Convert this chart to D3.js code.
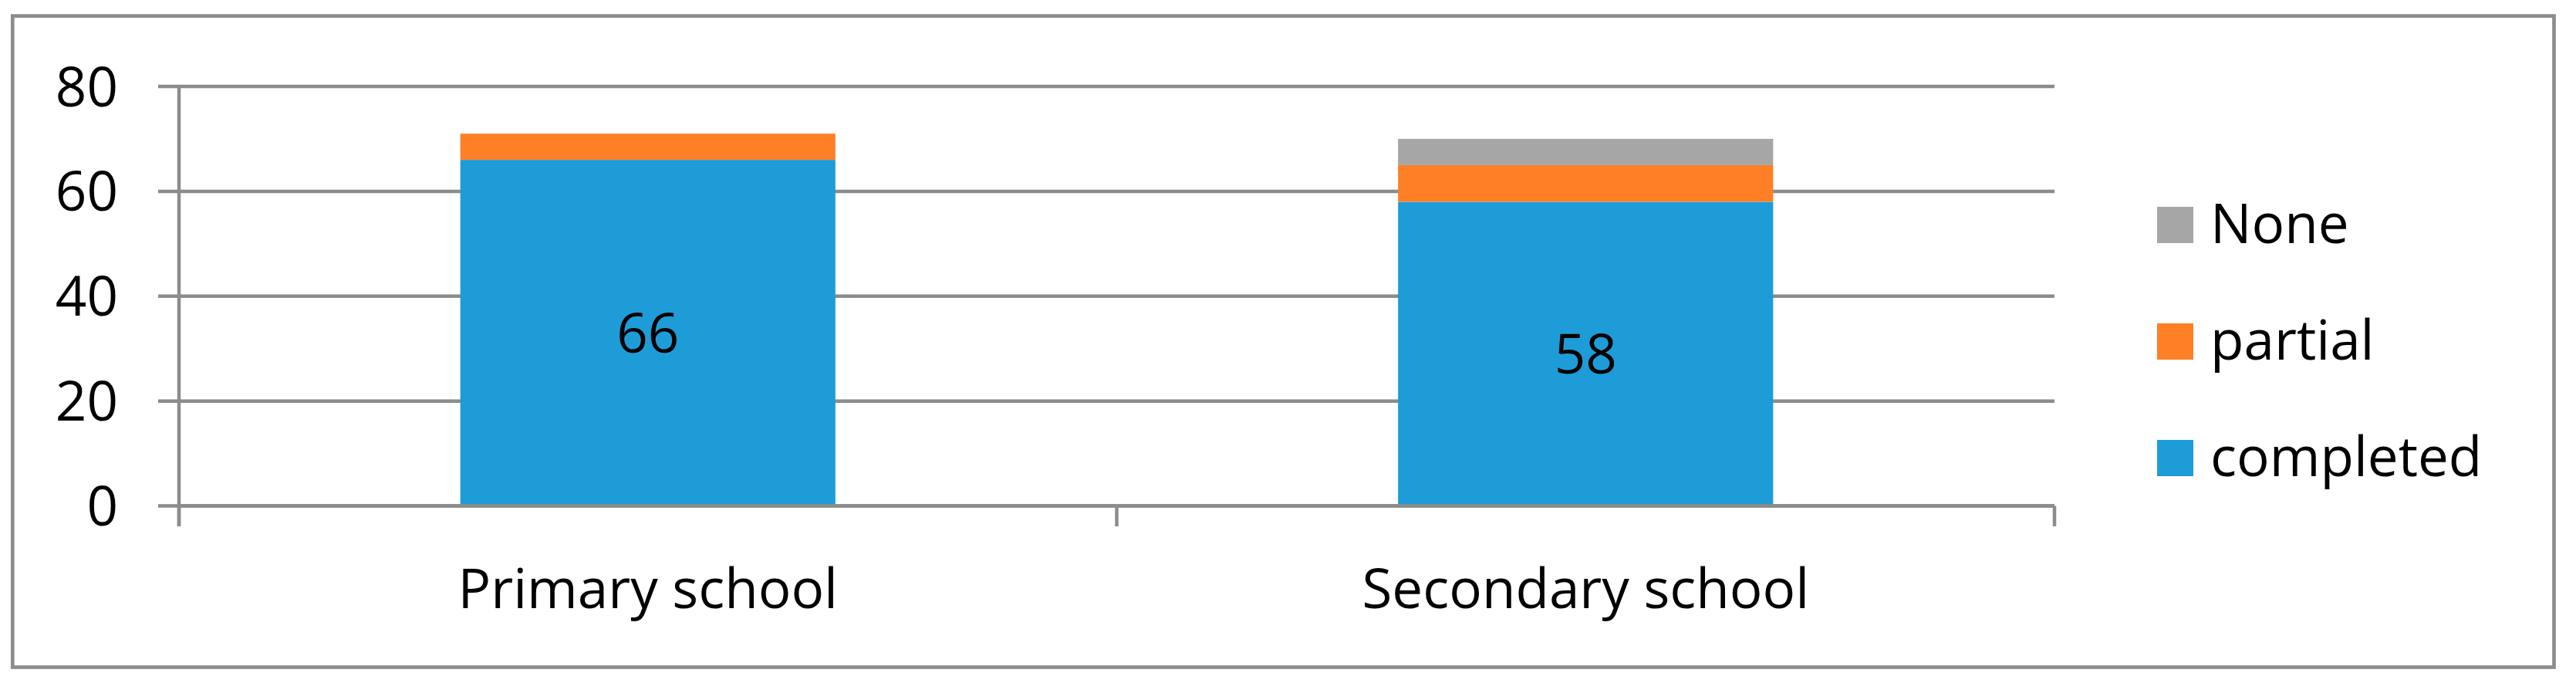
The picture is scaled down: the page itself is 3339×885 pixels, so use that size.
<!DOCTYPE html>
<html>
<head>
<meta charset="utf-8">
<script src="https://cdn.jsdelivr.net/npm/d3@7"></script>
<style>
    body { margin: 0; background: #fff; }
    text { font-family: "Open Sans", "Noto Sans", sans-serif; fill: #000; }
</style>
</head>
<body>
<div id="plot"></div>
<script>
// values
const categories = ["Primary school", "Secondary school"];
const completed = [66, 58];
const partial = [5, 7];
const none = [0, 5];
const yTicks = [0, 20, 40, 60, 80];

const seriesNames = ["completed", "partial", "None"];
const seriesColors = ["#1E9CD8", "#FF7F27", "#A6A6A6"];

const width = 3339, height = 885;
const lineColor = "#8C8C8C";

let svg = d3.select("#plot").append("svg")
    .attr("width", width)
    .attr("height", height);

// chart border
svg.append("rect")
    .attr("x", 16.3).attr("y", 20.7)
    .attr("width", 3310.5 - 16.3).attr("height", 864.5 - 20.7)
    .attr("fill", "none")
    .attr("stroke", lineColor)
    .attr("stroke-width", 4.7);

let y = d3.scaleLinear().domain([0, 80]).range([655.5, 112]);
let x = d3.scaleBand().domain(categories).range([232, 2663])
    .paddingInner(0.6).paddingOuter(0.3);

let rows = categories.map((c, i) => ({ cat: c, completed: completed[i], partial: partial[i], None: none[i] }));
let stacked = d3.stack().keys(seriesNames)(rows);

// gridlines + left ticks
svg.append("g").selectAll("line").data(yTicks).join("line")
    .attr("x1", 205).attr("x2", 2663)
    .attr("y1", d => y(d)).attr("y2", d => y(d))
    .attr("stroke", lineColor).attr("stroke-width", 4.5);

svg.append("g").selectAll("text").data(yTicks).join("text")
    .attr("x", 153).attr("y", d => y(d))
    .attr("dy", "0.36em")
    .attr("text-anchor", "end")
    .style("font-size", "71px")
    .text(d => d);

// bars
svg.append("g").selectAll("g").data(stacked).join("g")
    .attr("fill", (d, i) => seriesColors[i])
    .selectAll("rect").data(d => d.filter(s => s[1] > s[0])).join("rect")
    .attr("x", d => x(d.data.cat))
    .attr("width", x.bandwidth())
    .attr("y", d => y(d[1]))
    .attr("height", d => y(d[0]) - y(d[1]));

// labels on completed only
svg.append("g").selectAll("text").data(stacked[0]).join("text")
    .attr("x", d => x(d.data.cat) + x.bandwidth() / 2)
    .attr("y", d => (y(d[0]) + y(d[1])) / 2)
    .attr("dy", "0.36em")
    .attr("text-anchor", "middle")
    .style("font-size", "71px")
    .text(d => d.data.completed);

// axes lines
svg.append("line")
    .attr("x1", 232).attr("x2", 232).attr("y1", 112).attr("y2", 682)
    .attr("stroke", lineColor).attr("stroke-width", 4.5);

let step = x.step();
let catTicks = d3.range(categories.length + 1).map(i => 232 + i * step);
svg.append("g").selectAll("line").data(catTicks).join("line")
    .attr("x1", d => d).attr("x2", d => d)
    .attr("y1", 655.5).attr("y2", 682)
    .attr("stroke", lineColor).attr("stroke-width", 4.5);

svg.append("line")
    .attr("x1", 232).attr("x2", 2663).attr("y1", y(0)).attr("y2", y(0))
    .attr("stroke", lineColor).attr("stroke-width", 4.5);

svg.append("g").selectAll("text").data(categories).join("text")
    .attr("x", d => x(d) + x.bandwidth() / 2)
    .attr("y", 788)
    .attr("text-anchor", "middle")
    .style("font-size", "71px")
    .text(d => d);

// legend, None on top
let legend = svg.append("g").selectAll("g").data(seriesNames.slice().reverse()).join("g")
    .attr("transform", (d, i) => "translate(2796," + (268 + i * 151) + ")");

legend.append("rect")
    .attr("width", 47).attr("height", 47)
    .attr("fill", d => seriesColors[seriesNames.indexOf(d)]);

legend.append("text")
    .attr("x", 69).attr("y", 47)
    .style("font-size", "71px")
    .text(d => d);
</script>
</body>
</html>
